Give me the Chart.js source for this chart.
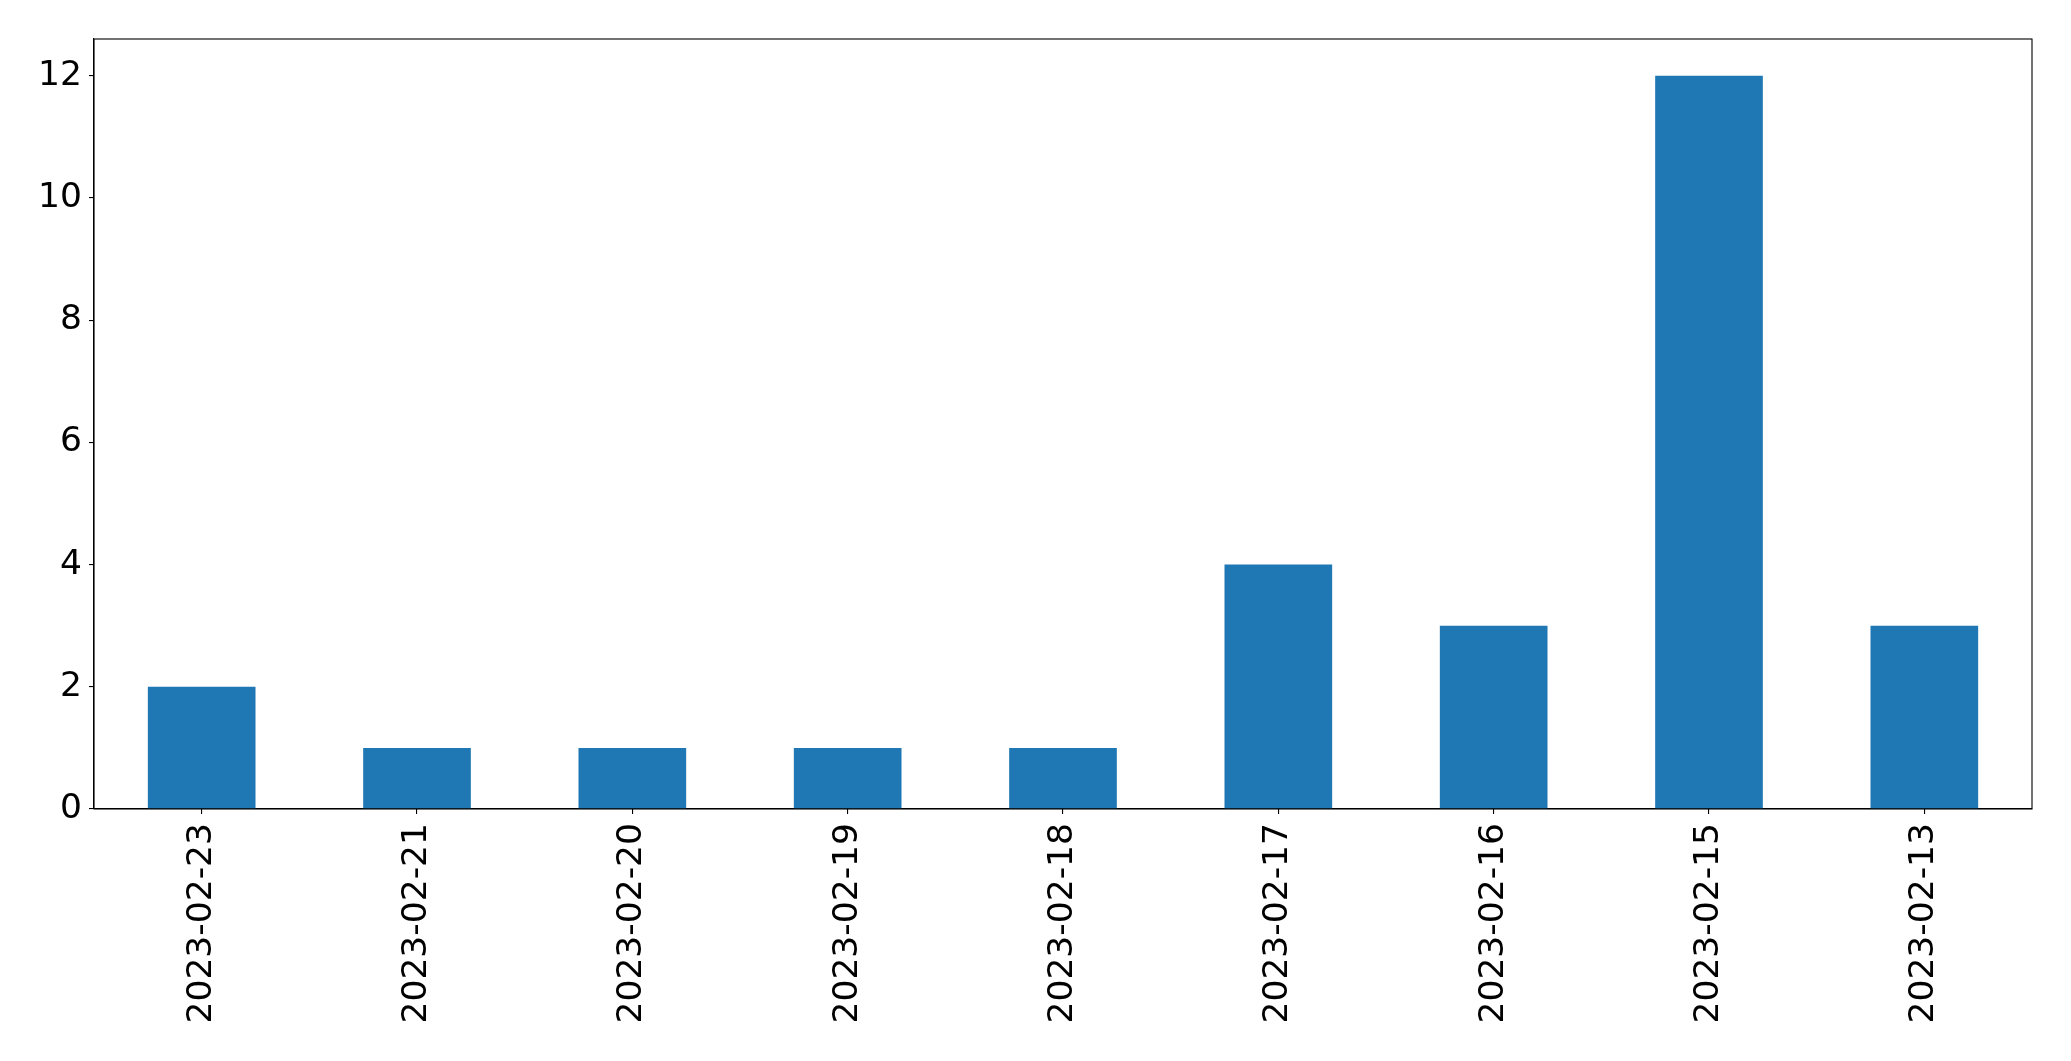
<!DOCTYPE html>
<html>
<head>
<meta charset="utf-8">
<script src="https://cdn.jsdelivr.net/npm/chart.js@4"></script>
<style>
  html, body { margin: 0; padding: 0; background: #fff; }
  #wrap { width: 2071px; height: 1061px; }
</style>
</head>
<body>
<div id="wrap"><canvas id="chart" width="2071" height="1061"></canvas></div>
<script>
// dates as they appear on the x axis
const dates = [
  "2023-02-23", "2023-02-21", "2023-02-20", "2023-02-19", "2023-02-18",
  "2023-02-17", "2023-02-16", "2023-02-15", "2023-02-13"
];
const counts = [2, 1, 1, 1, 1, 4, 3, 12, 3];
const yTicks = [0, 2, 4, 6, 8, 10, 12];
const yMax = 12.6;

// box around the plot, like matplotlib spines
const frame = {
  id: "frame",
  afterDatasetsDraw(chart) {
    const a = chart.chartArea, ctx = chart.ctx;
    ctx.save();
    ctx.strokeStyle = "#000";
    ctx.lineWidth = 1.1;
    ctx.strokeRect(a.left, a.top, a.right - a.left, a.bottom - a.top);
    ctx.restore();
  }
};

const font = { family: "'DejaVu Sans', sans-serif", size: 34.5 };

new Chart(document.getElementById("chart").getContext("2d"), {
  type: "bar",
  data: {
    labels: dates,
    datasets: [{
      data: counts,
      backgroundColor: "#1f77b4",
      borderWidth: 0,
      barPercentage: 0.5,
      categoryPercentage: 1.0
    }]
  },
  options: {
    responsive: false,
    animation: false,
    layout: { padding: { left: 0, top: 39, right: 39, bottom: 0 } },
    plugins: { legend: { display: false }, tooltip: { enabled: false } },
    scales: {
      x: {
        grid: { display: true, offset: false, drawOnChartArea: false, drawTicks: true, tickLength: 5, color: "#000", lineWidth: 1.1 },
        border: { display: true, color: "#000", width: 1.1 },
        ticks: { color: "#000", font: font, maxRotation: 90, minRotation: 90, padding: 9, autoSkip: false },
        afterFit(scale) { scale.height = 252; }
      },
      y: {
        min: 0,
        max: yMax,
        grid: { display: true, drawOnChartArea: false, drawTicks: true, tickLength: 5, color: "#000", lineWidth: 1.1 },
        border: { display: true, color: "#000", width: 1.1 },
        ticks: { color: "#000", font: font, padding: 7 },
        afterBuildTicks(scale) { scale.ticks = yTicks.map(v => ({ value: v })); },
        afterFit(scale) { scale.width = 94; }
      }
    }
  },
  plugins: [frame]
});
</script>
</body>
</html>
